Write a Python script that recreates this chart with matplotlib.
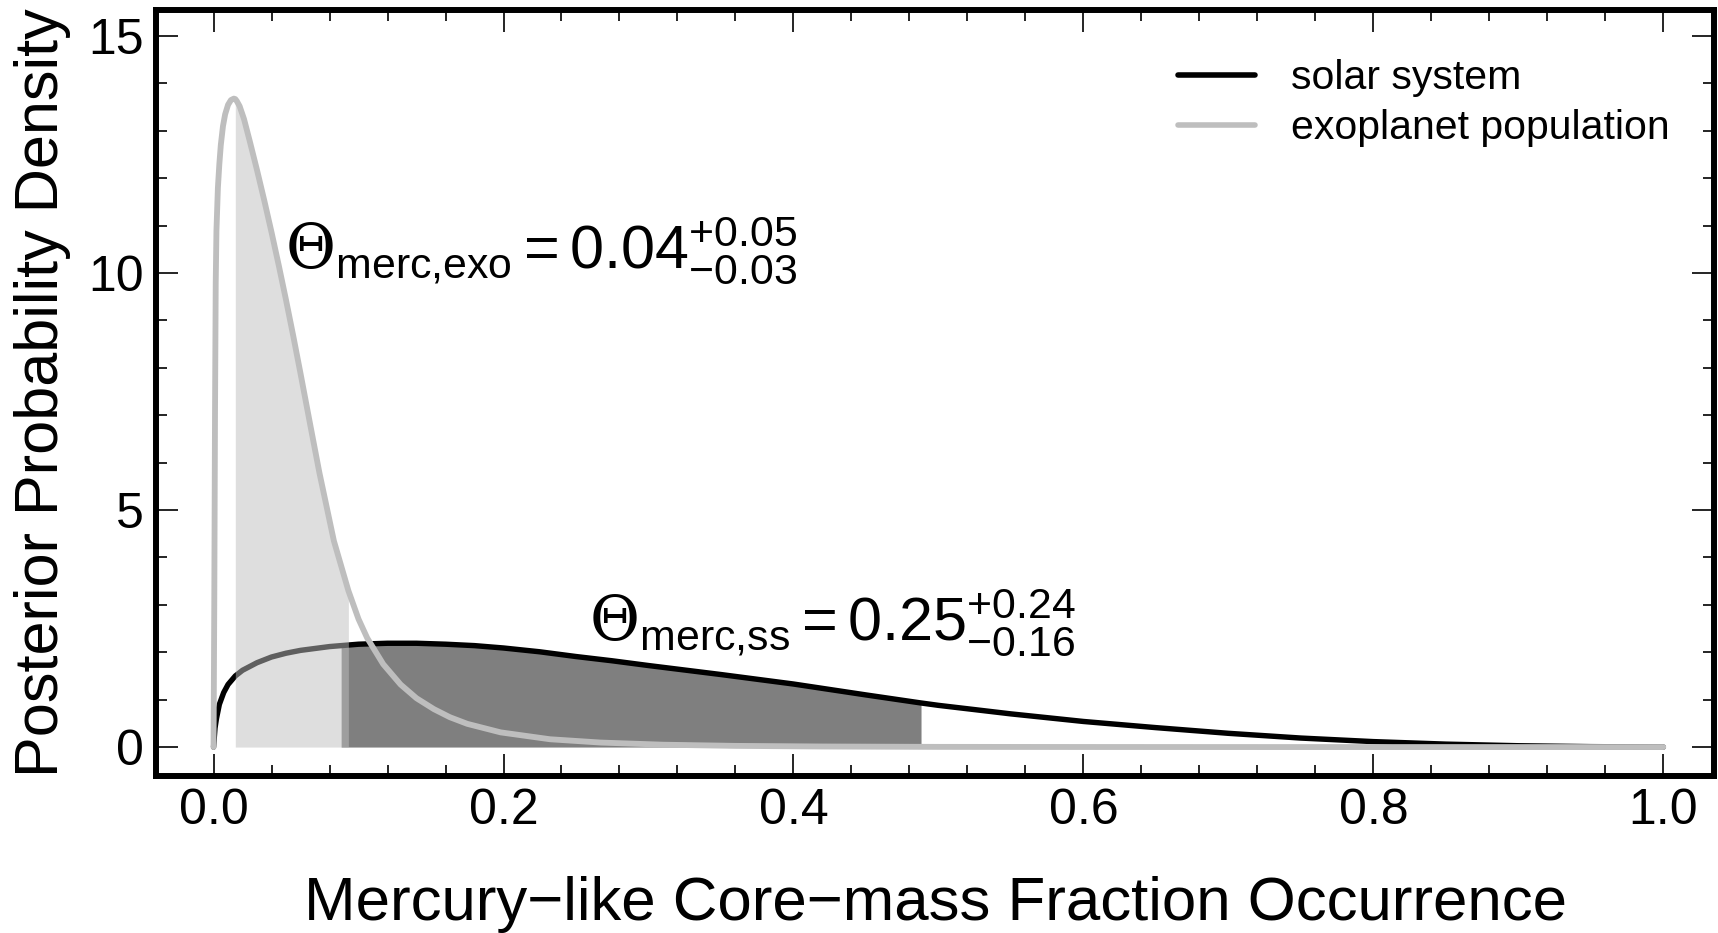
import numpy as np
import matplotlib
matplotlib.use("Agg")
import matplotlib.pyplot as plt
from matplotlib.ticker import FixedLocator

plt.rcParams["font.family"] = ["Liberation Sans", "DejaVu Sans"]
plt.rcParams["mathtext.fontset"] = "custom"
plt.rcParams["mathtext.rm"] = "Liberation Sans"
plt.rcParams["mathtext.it"] = "Liberation Sans:italic"
plt.rcParams["mathtext.bf"] = "DejaVu Serif"

# Posterior density of the Mercury-like core-mass fraction occurrence
ss_x = [0.0, 0.001, 0.002, 0.004, 0.007, 0.010, 0.015, 0.020, 0.030, 0.040,
        0.050, 0.060, 0.080, 0.088, 0.100, 0.120, 0.140, 0.160, 0.180, 0.200,
        0.225, 0.250, 0.275, 0.300, 0.350, 0.400, 0.450, 0.488, 0.500, 0.550,
        0.600, 0.650, 0.700, 0.750, 0.800, 0.850, 0.900, 0.950, 1.0]
ss_y = [0.0, 0.40, 0.60, 0.90, 1.15, 1.32, 1.50, 1.62, 1.78, 1.90,
        1.98, 2.04, 2.12, 2.14, 2.17, 2.19, 2.19, 2.17, 2.14, 2.09,
        2.01, 1.91, 1.82, 1.72, 1.53, 1.33, 1.10, 0.93, 0.88, 0.70,
        0.54, 0.41, 0.29, 0.19, 0.115, 0.062, 0.028, 0.009, 0.0]

exo_x = [0.0, 0.0005, 0.001, 0.0015, 0.002, 0.003, 0.004, 0.005, 0.0065, 0.008,
         0.010, 0.012, 0.014, 0.015, 0.016, 0.018, 0.021, 0.025, 0.030, 0.035,
         0.040, 0.045, 0.050, 0.055, 0.060, 0.067, 0.073, 0.083, 0.093, 0.100,
         0.106, 0.117, 0.129, 0.140, 0.152, 0.163, 0.175, 0.198, 0.232, 0.267,
         0.310, 0.360, 0.420, 0.500, 0.600, 0.700, 0.800, 0.900, 1.0]
exo_y = [0.0, 3.0, 7.0, 9.8, 10.9, 11.8, 12.3, 12.7, 13.1, 13.35,
         13.55, 13.65, 13.68, 13.67, 13.63, 13.52, 13.25, 12.78, 12.17, 11.53,
         10.86, 10.16, 9.43, 8.67, 7.88, 6.75, 5.79, 4.35, 3.3, 2.7,
         2.3, 1.75, 1.32, 1.03, 0.80, 0.63, 0.49, 0.31, 0.165, 0.095,
         0.05, 0.025, 0.012, 0.004, 0.0015, 0.0005, 0.0001, 0.0, 0.0]

# 68% credible intervals
ss_lo, ss_hi = 0.088, 0.488
exo_lo, exo_hi = 0.015, 0.093

labels = ["solar system", "exoplanet population"]
xticks = [0.0, 0.2, 0.4, 0.6, 0.8, 1.0]
xticklabels = ["0.0", "0.2", "0.4", "0.6", "0.8", "1.0"]
yticks = [0, 5, 10, 15]
yticklabels = ["0", "5", "10", "15"]

GRAY = "#bebebe"

fig = plt.figure(figsize=(17.18, 9.33), dpi=100)
ax = fig.add_axes([0.0908, 0.1683, 0.9069, 0.8210])

ssx = np.array(ss_x)
ssy = np.array(ss_y)
exx = np.array(exo_x)
exy = np.array(exo_y)

m_ss = (ssx >= ss_lo) & (ssx <= ss_hi)
ax.fill_between(ssx[m_ss], 0, ssy[m_ss], color="black", alpha=0.5, lw=0, zorder=1)
ax.plot(ssx, ssy, color="black", lw=3.9, solid_capstyle="round",
        solid_joinstyle="round", zorder=2, label=labels[0])

m_ex = (exx >= exo_lo) & (exx <= exo_hi)
ax.fill_between(exx[m_ex], 0, exy[m_ex], color=GRAY, alpha=0.5, lw=0, zorder=3)
ax.plot(exx, exy, color=GRAY, lw=4.2, solid_capstyle="round",
        solid_joinstyle="round", zorder=4, label=labels[1])

ax.set_xlim(-0.0397, 1.035)
ax.set_ylim(-0.61, 15.55)

ax.set_xticks(xticks)
ax.set_xticklabels(xticklabels)
ax.set_yticks(yticks)
ax.set_yticklabels(yticklabels)
ax.xaxis.set_minor_locator(FixedLocator([v for v in np.arange(0.04, 1.0, 0.04)
                                         if abs(v / 0.2 - round(v / 0.2)) > 1e-6]))
ax.yaxis.set_minor_locator(FixedLocator([v for v in range(0, 16) if v % 5]))

ax.tick_params(which="both", direction="in", top=True, right=True,
               width=1.2, labelsize=36, pad=9)
ax.tick_params(which="major", length=16)
ax.tick_params(which="minor", length=8)
for s in ax.spines.values():
    s.set_linewidth(4.3)

ax.set_xlabel("Mercury\u2212like Core\u2212mass Fraction Occurrence", fontsize=44.5,
              labelpad=30)
ax.set_ylabel("Posterior Probability Density", fontsize=44, labelpad=12)

ax.text(0.049, 10.1, r"$\mathbf{\Theta}_{\mathrm{merc{,}exo}} = 0.04^{+0.05}_{-0.03}$",
        fontsize=44, ha="left", va="baseline", zorder=5)
ax.text(0.2592, 2.26, r"$\mathbf{\Theta}_{\mathrm{merc{,}ss}} = 0.25^{+0.24}_{-0.16}$",
        fontsize=44, ha="left", va="baseline", zorder=5)

leg = ax.legend(loc="upper left", bbox_to_anchor=(0.656, 0.9354), frameon=False,
                fontsize=29.5, handlelength=1.88, handletextpad=0.88,
                labelspacing=0.29, borderpad=0, borderaxespad=0)
for h in leg.get_lines():
    h.set_linewidth(4.0)

fig.savefig("out.png", dpi=100)
